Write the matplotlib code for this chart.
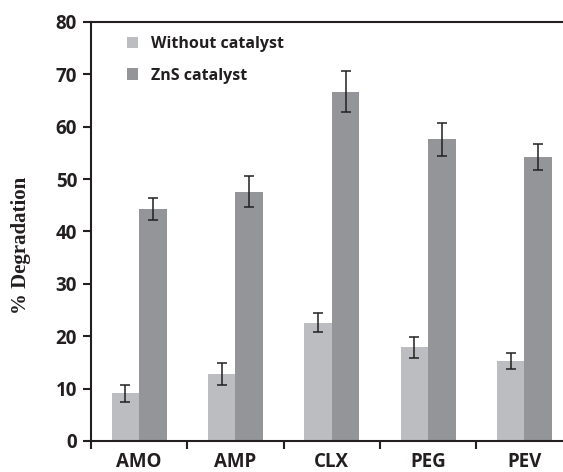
import matplotlib.pyplot as plt
import numpy as np

# Datos
drugs = ["AMO", "AMP", "CLX", "PEG", "PEV"]
without_cat = [9.1, 12.7, 22.6, 17.9, 15.3]
without_err = [1.6, 2.1, 1.85, 2.05, 1.5]
zns_cat = [44.3, 47.6, 66.7, 57.6, 54.2]
zns_err = [2.15, 2.9, 3.85, 3.2, 2.5]

dark = "#231f20"
fig = plt.figure(figsize=(5.63, 4.72), dpi=100)
ax = fig.add_axes([0.1616, 0.0657, 0.8384, 0.8877])

x = np.arange(len(drugs))
w = 0.285
err_kw = dict(ecolor=dark, elinewidth=1.1, capsize=3.8, capthick=1.1)
ax.bar(x - w / 2, without_cat, w, yerr=without_err, color="#bcbdc1",
       label="Without catalyst", error_kw=err_kw)
ax.bar(x + w / 2, zns_cat, w, yerr=zns_err, color="#939598",
       label="ZnS catalyst", error_kw=err_kw)

ax.set_xlim(-0.5, 4.4)
ax.set_ylim(0, 80)
ax.set_yticks(range(0, 81, 10))

# Marcas del eje x entre categorías, etiquetas centradas
ax.set_xticks(np.arange(-0.5, 4.5, 1.0))
ax.set_xticklabels([])
ax.set_xticks(x, minor=True)
ax.set_xticklabels(drugs, minor=True)
ax.tick_params(axis="x", which="minor", length=0, pad=8)
ax.tick_params(axis="x", which="major", length=6, width=1.5, color=dark)
ax.tick_params(axis="y", length=6, width=1.5, color=dark, pad=4)

for lab in ax.get_xticklabels(minor=True) + ax.get_yticklabels():
    lab.set_fontfamily("Open Sans")
    lab.set_fontweight("bold")
    lab.set_fontsize(13.5)
    lab.set_color(dark)

for side in ["left", "bottom", "top"]:
    ax.spines[side].set_linewidth(1.5)
    ax.spines[side].set_color(dark)
ax.spines["right"].set_visible(False)

ax.set_ylabel("% Degradation", fontfamily="Liberation Serif",
              fontweight="bold", fontsize=15, color=dark)
ax.yaxis.set_label_coords(-0.127, 0.468)

leg = ax.legend(loc="upper left", bbox_to_anchor=(0.045, 1.0), frameon=False,
                handlelength=0.72, handleheight=0.72, handletextpad=0.8,
                labelspacing=0.95, prop={"family": "Open Sans", "weight": "bold", "size": 11.5})
for t in leg.get_texts():
    t.set_color(dark)

fig.savefig("out.png", dpi=100)
